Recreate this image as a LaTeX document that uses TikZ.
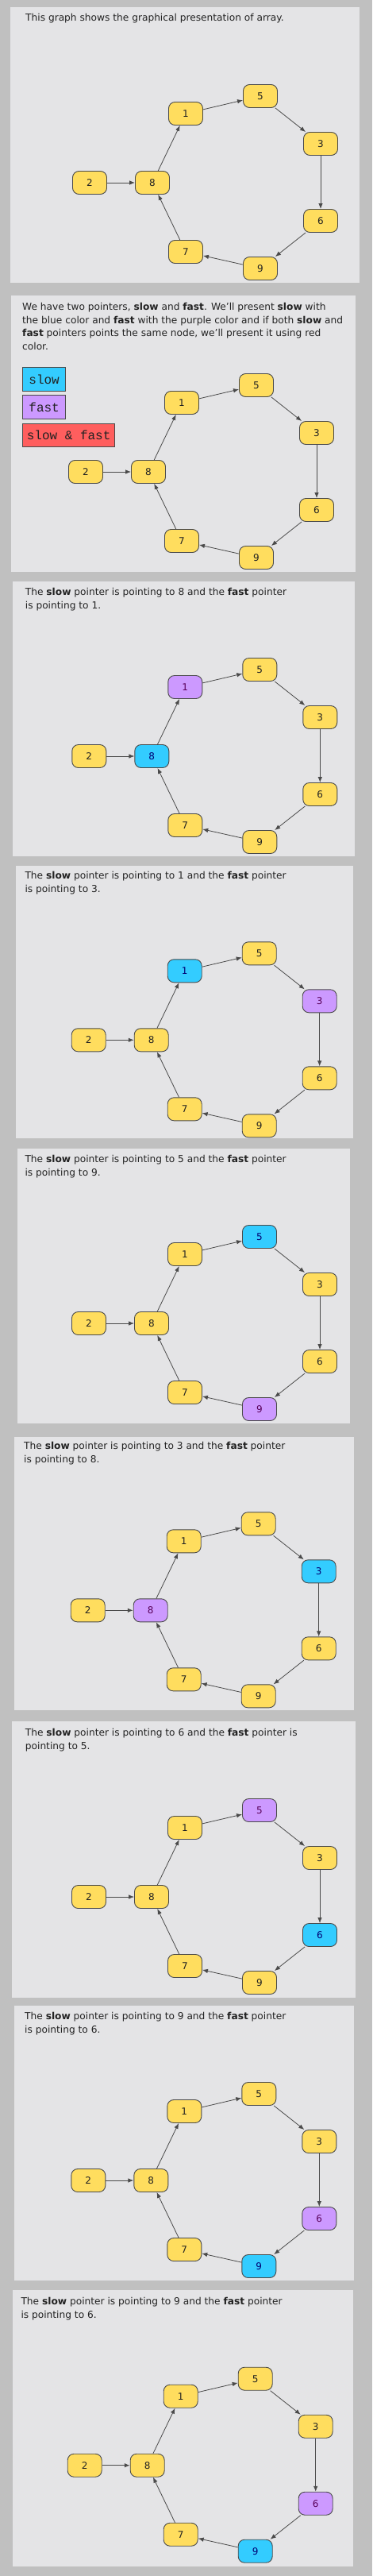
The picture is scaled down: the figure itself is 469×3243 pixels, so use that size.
\documentclass[tikz,border=0pt]{standalone}
\usepackage{fontspec}
\setmainfont{DejaVu Sans}
\newfontfamily\monof{Liberation Mono}
\usetikzlibrary{arrows.meta}
\definecolor{outerbg}{HTML}{C0C0C0}
\definecolor{panelbg}{HTML}{E4E4E6}
\definecolor{yel}{HTML}{FFDD5E}
\definecolor{blu}{HTML}{33CCFF}
\definecolor{pur}{HTML}{CC99FF}
\definecolor{redc}{HTML}{FF5E5E}
\definecolor{edgec}{HTML}{4A4A4A}
\definecolor{txt}{HTML}{222222}
\tikzset{
  box/.style={draw=edgec, line width=0.9pt, rounded corners=8pt, minimum width=43pt, minimum height=29pt, inner sep=0pt, font=\fontsize{12}{14}\selectfont},
  yelc/.style={fill=yel, text=txt},
  slowc/.style={fill=blu, text=blue!45!black},
  fastc/.style={fill=pur, text=violet!70!black},
  n1/.style=yelc, n2/.style=yelc, n3/.style=yelc, n5/.style=yelc,
  n6/.style=yelc, n7/.style=yelc, n8/.style=yelc, n9/.style=yelc,
  arr/.style={draw=edgec, line width=0.8pt, -{Latex[length=7pt,width=5.5pt]}},
  panel/.style={fill=panelbg, draw=none},
  desc/.style={anchor=base west, inner sep=0pt, text=txt, font=\fontsize{12.2}{14}\selectfont},
  legend/.style={draw=edgec, line width=1.3pt, inner sep=0pt, text=txt, font=\monof\fontsize{16}{18}\selectfont, anchor=north west, minimum height=30pt},
}
\newcommand\cyc[1]{%
  \node[box,n2] (#1-2) at (-79,0) {2};
  \node[box,n8] (#1-8) at (0,0) {8};
  \node[box,n1] (#1-1) at (42,-87) {1};
  \node[box,n5] (#1-5) at (136,-109) {5};
  \node[box,n3] (#1-3) at (212,-49) {3};
  \node[box,n6] (#1-6) at (212,48) {6};
  \node[box,n9] (#1-9) at (136,108) {9};
  \node[box,n7] (#1-7) at (42,87) {7};
  \draw[arr] (#1-2) -- (#1-8);
  \draw[arr] (#1-8) -- (#1-1);
  \draw[arr] (#1-1) -- (#1-5);
  \draw[arr] (#1-5) -- (#1-3);
  \draw[arr] (#1-3) -- (#1-6);
  \draw[arr] (#1-6) -- (#1-9);
  \draw[arr] (#1-9) -- (#1-7);
  \draw[arr] (#1-7) -- (#1-8);
}
\begin{document}
\begin{tikzpicture}[x=1pt,y=-1pt]
\useasboundingbox (0,0) rectangle (469,3243);
\fill[outerbg] (0,0) rectangle (469,3243);
% panels
\fill[panel] (13,9) rectangle (453,356);
\fill[panel] (14,372) rectangle (448,720);
\fill[panel] (16,732) rectangle (447,1078);
\fill[panel] (20,1090) rectangle (445,1433);
\fill[panel] (22,1446) rectangle (441,1792);
\fill[panel] (18,1809) rectangle (446,2153);
\fill[panel] (15,2167) rectangle (448,2515);
\fill[panel] (18,2525) rectangle (446,2871);
\fill[panel] (16,2883) rectangle (445,3231);
% panel 1
\node[desc] (t1) at (32,27) {This graph shows the graphical presentation of array.};
\begin{scope}[shift={(192,230)}]\cyc{a}\end{scope}
% panel 2
\node[desc] (t2a) at (28,390.7) {We have two pointers, \textbf{slow} and \textbf{fast}. We'll present \textbf{slow} with};
\node[desc] (t2b) at (28,407.3) {the blue color and \textbf{fast} with the purple color and if both \textbf{slow} and};
\node[desc] (t2c) at (28,423.7) {\textbf{fast} pointers points the same node, we'll present it using red};
\node[desc] (t2d) at (28,440) {color.};
\node[legend, fill=blu, minimum width=54pt] (lslow) at (28,461.7) {slow};
\node[legend, fill=pur, minimum width=54pt] (lfast) at (28,497) {fast};
\node[legend, fill=redc, minimum width=116pt, minimum height=29pt] (lboth) at (28,533) {slow \& fast};
\begin{scope}[shift={(187,594)}]\cyc{b}\end{scope}
% panel 3
\node[desc] (t3a) at (31.7,749.5) {The \textbf{slow} pointer is pointing to 8 and the \textbf{fast} pointer};
\node[desc] (t3b) at (31.7,766.5) {is pointing to 1.};
\begin{scope}[shift={(191.3,952)}, n8/.style=slowc, n1/.style=fastc]\cyc{c}\end{scope}
% panel 4
\node[desc] (t4a) at (31.3,1106.3) {The \textbf{slow} pointer is pointing to 1 and the \textbf{fast} pointer};
\node[desc] (t4b) at (31.3,1123.3) {is pointing to 3.};
\begin{scope}[shift={(190.7,1309.3)}, n1/.style=slowc, n3/.style=fastc]\cyc{d}\end{scope}
% panel 5
\node[desc] (t5a) at (31.3,1463.3) {The \textbf{slow} pointer is pointing to 5 and the \textbf{fast} pointer};
\node[desc] (t5b) at (31.3,1480.3) {is pointing to 9.};
\begin{scope}[shift={(191,1666)}, n5/.style=slowc, n9/.style=fastc]\cyc{e}\end{scope}
% panel 6
\node[desc] (t6a) at (30,1824.7) {The \textbf{slow} pointer is pointing to 3 and the \textbf{fast} pointer};
\node[desc] (t6b) at (30,1841.7) {is pointing to 8.};
\begin{scope}[shift={(189.7,2027.3)}, n3/.style=slowc, n8/.style=fastc]\cyc{f}\end{scope}
% panel 7
\node[desc] (t7a) at (31.7,2185) {The \textbf{slow} pointer is pointing to 6 and the \textbf{fast} pointer is};
\node[desc] (t7b) at (31.7,2202) {pointing to 5.};
\begin{scope}[shift={(191,2388)}, n6/.style=slowc, n5/.style=fastc]\cyc{g}\end{scope}
% panel 8
\node[desc] (t8a) at (31,2542.3) {The \textbf{slow} pointer is pointing to 9 and the \textbf{fast} pointer};
\node[desc] (t8b) at (31,2559.3) {is pointing to 6.};
\begin{scope}[shift={(190.3,2745)}, n9/.style=slowc, n6/.style=fastc]\cyc{h}\end{scope}
% panel 9
\node[desc] (t9a) at (26.3,2901) {The \textbf{slow} pointer is pointing to 9 and the \textbf{fast} pointer};
\node[desc] (t9b) at (26.3,2918) {is pointing to 6.};
\begin{scope}[shift={(185.7,3103.7)}, n9/.style=slowc, n6/.style=fastc]\cyc{i}\end{scope}
\end{tikzpicture}
\end{document}
